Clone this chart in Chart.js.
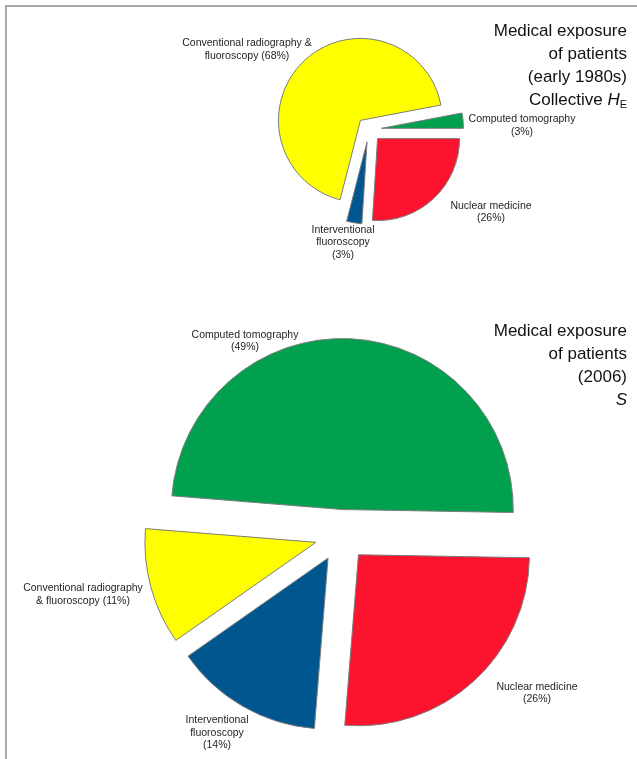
<!DOCTYPE html>
<html>
<head>
<meta charset="utf-8">
<script src="https://cdn.jsdelivr.net/npm/chart.js@4"></script>
<style>
  html, body { margin: 0; padding: 0; background: #fff; }
  body { width: 637px; height: 759px; position: relative; overflow: hidden;
         font-family: "Liberation Sans", Arial, sans-serif; }
  .frame { position: absolute; left: 5px; top: 5px; right: -10px; bottom: -10px;
           border-top: 2px solid #a8a8a8; border-left: 2px solid #a8a8a8; }
  .pie { position: absolute; }
  .title { position: absolute; right: 10px; text-align: right; font-size: 17px;
           line-height: 23px; color: #111; white-space: nowrap; }
  .title sub { font-size: 11px; line-height: 0; vertical-align: -3px; }
  .lbl { position: absolute; transform: translate(-50%, -50%); text-align: center;
         font-size: 10.5px; line-height: 12.5px; color: #1e1e1e; white-space: nowrap; }
</style>
</head>
<body>
<div class="frame"></div>
<canvas id="pie1980" class="pie" width="300" height="259" style="left:219px;top:0px;"></canvas>
<canvas id="pie2006" class="pie" width="420" height="421" style="left:131px;top:325px;"></canvas>
<div class="title" style="top:18.5px;">Medical exposure<br>of patients<br>(early 1980s)<br>Collective <i>H</i><sub>E</sub></div>
<div class="title" style="top:318.5px;">Medical exposure<br>of patients<br>(2006)<br><i>S</i></div>
<div id="labels"></div>
<script>
// Sources of medical exposure, in the order the slices are drawn (clockwise)
const categories = ['Computed tomography', 'Nuclear medicine', 'Interventional fluoroscopy',
                    'Conventional radiography & fluoroscopy'];
const shares1980s = [3, 26, 3, 68];   // % of collective effective dose, early 1980s
const shares2006 = [49, 26, 14, 11];  // % of collective effective dose, 2006

const sliceColors = ['#00a04e', '#fc142e', '#00568f', '#ffff00'];

// Label placement: centre of each label block and words per wrapped line
const labels1980s = [
  { x: 522, y: 124, breaks: [2] },
  { x: 491, y: 210.5, breaks: [2] },
  { x: 343, y: 241.5, breaks: [1, 1] },
  { x: 247, y: 48, breaks: [3] }
];
const labels2006 = [
  { x: 245, y: 339.5, breaks: [2] },
  { x: 537, y: 691.5, breaks: [2] },
  { x: 217, y: 732, breaks: [1, 1] },
  { x: 83, y: 593, breaks: [2] }
];

// Pulls every slice outward along its bisector by a fixed distance
const explodePlugin = {
  id: 'explode',
  beforeDatasetDraw(chart, args, opts) {
    const ctx = chart.ctx;
    const dist = opts.distance || 0;
    args.meta.data.forEach(arc => {
      const mid = (arc.startAngle + arc.endAngle) / 2;
      ctx.save();
      ctx.translate(Math.cos(mid) * dist, Math.sin(mid) * dist);
      arc.draw(ctx);
      ctx.restore();
    });
    return false;
  }
};

function makePie(id, values, radius, rotation, explode) {
  return new Chart(document.getElementById(id), {
    type: 'pie',
    data: {
      labels: categories,
      datasets: [{
        data: values,
        backgroundColor: sliceColors,
        borderColor: '#7c7c7c',
        borderWidth: 1
      }]
    },
    options: {
      responsive: false,
      maintainAspectRatio: false,
      devicePixelRatio: 1,
      animation: false,
      radius: radius,
      rotation: rotation,
      layout: { padding: 0 },
      plugins: {
        legend: { display: false },
        tooltip: { enabled: false },
        explode: { distance: explode }
      }
    },
    plugins: [explodePlugin]
  });
}

makePie('pie1980', shares1980s, 82, 79.2, 12.5);
makePie('pie2006', shares2006, 171, 274.6, 26);

// Category labels with their percentage
function addLabels(values, layout) {
  const host = document.getElementById('labels');
  layout.forEach((pos, i) => {
    const words = categories[i].split(' ');
    const lines = [];
    let k = 0;
    pos.breaks.forEach(n => { lines.push(words.slice(k, k + n).join(' ')); k += n; });
    const rest = words.slice(k).join(' ');
    lines.push((rest ? rest + ' ' : '') + '(' + values[i] + '%)');
    const div = document.createElement('div');
    div.className = 'lbl';
    div.style.left = pos.x + 'px';
    div.style.top = pos.y + 'px';
    lines.forEach((t, j) => {
      if (j) div.appendChild(document.createElement('br'));
      div.appendChild(document.createTextNode(t));
    });
    host.appendChild(div);
  });
}
addLabels(shares1980s, labels1980s);
addLabels(shares2006, labels2006);
</script>
</body>
</html>
